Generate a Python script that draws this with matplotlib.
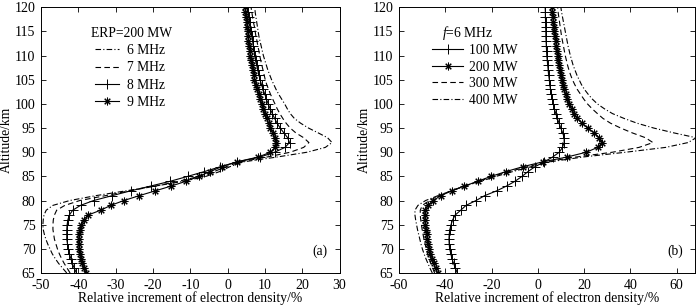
import matplotlib
matplotlib.use("Agg")
import matplotlib.pyplot as plt
import numpy as np

plt.rcParams['font.family'] = ['Liberation Serif', 'DejaVu Serif']
plt.rcParams['mathtext.fontset'] = 'custom'
plt.rcParams['mathtext.it'] = 'Liberation Serif:italic'
plt.rcParams['mathtext.rm'] = 'Liberation Serif'
plt.rcParams['axes.unicode_minus'] = False

altitude = list(range(65, 121))

# Panel (a): ERP = 200 MW, different frequencies
f6 = [-43.1, -44.2, -45.3, -46.2, -47.0, -47.6, -48.2, -48.7, -49.1, -49.4, -49.5, -49.4, -49.2, -48.6, -46.8,
      -42.3, -35.4, -27.3, -19.3, -11.7, -5.8, -2.1, 0.6, 4.2, 13.2, 21.3, 26.2, 28.0, 26.8, 24.3,
      21.7, 19.6, 17.9, 16.8, 16.0, 15.3, 14.5, 13.7, 13.0, 12.4, 11.8, 11.3, 10.8, 10.4, 10.0,
      9.6, 9.3, 9.0, 8.7, 8.4, 8.2, 8.0, 7.8, 7.6, 7.4, 7.3]
f7 = [-42.2, -43.0, -43.8, -44.5, -45.1, -45.6, -46.0, -46.4, -46.6, -46.8, -46.8, -46.7, -46.4, -45.8, -43.6,
      -39.6, -32.8, -26.4, -19.3, -13.0, -7.6, -3.6, -0.4, 3.3, 10.5, 16.8, 20.4, 21.8, 20.4, 18.3,
      16.8, 15.7, 14.8, 14.0, 13.3, 12.7, 12.1, 11.5, 11.0, 10.5, 10.1, 9.8, 9.5, 9.2, 8.9,
      8.6, 8.4, 8.1, 7.9, 7.6, 7.4, 7.2, 6.9, 6.7, 6.5, 6.3]
f8 = [-40.5, -41.1, -41.6, -42.0, -42.4, -42.7, -42.9, -43.1, -43.1, -43.1, -43.0, -42.8, -42.4, -41.5, -39.4,
      -35.9, -31.0, -26.0, -20.6, -15.3, -10.7, -6.2, -1.9, 2.6, 8.7, 12.6, 15.4, 16.6, 16.1, 15.1,
      14.1, 13.3, 12.6, 12.0, 11.4, 10.9, 10.4, 10.0, 9.5, 9.1, 8.7, 8.4, 8.1, 7.8, 7.5,
      7.3, 7.1, 6.9, 6.7, 6.5, 6.3, 6.1, 5.9, 5.7, 5.5, 5.3]
f9 = [-37.9, -38.4, -38.9, -39.3, -39.6, -39.8, -39.9, -39.9, -39.8, -39.6, -39.2, -38.6, -37.4, -34.0, -31.3,
      -27.8, -23.7, -19.4, -15.1, -11.1, -7.7, -4.7, -1.6, 2.4, 8.2, 11.5, 12.8, 13.0, 12.7, 12.1,
      11.5, 11.0, 10.5, 10.0, 9.6, 9.2, 8.8, 8.4, 8.0, 7.6, 7.2, 7.0, 6.7, 6.5, 6.3,
      6.1, 5.9, 5.8, 5.6, 5.5, 5.4, 5.2, 5.1, 5.0, 4.8, 4.7]

# Panel (b): f = 6 MHz, different ERP
p100 = [-34.8, -35.6, -36.4, -37.1, -37.6, -38.1, -38.3, -38.4, -38.3, -38.0, -37.5, -36.8, -35.7, -33.3, -31.0,
        -26.7, -23.0, -17.8, -13.5, -9.8, -6.8, -4.2, -1.2, 2.8, 6.4, 9.3, 10.7, 11.4, 11.4, 10.8,
        10.0, 9.2, 8.5, 7.8, 7.2, 6.7, 6.3, 5.9, 5.5, 5.2, 5.0, 4.7, 4.5, 4.3, 4.1,
        3.9, 3.8, 3.7, 3.6, 3.5, 3.5, 3.4, 3.4, 3.3, 3.3, 3.2]
p200 = [-43.3, -44.2, -45.0, -45.7, -46.4, -46.9, -47.4, -47.8, -48.1, -48.4, -48.6, -48.8, -48.9, -48.7, -47.6,
        -45.2, -42.0, -37.2, -31.7, -25.9, -20.2, -13.7, -6.5, 2.1, 12.6, 21.0, 25.9, 27.8, 26.6, 24.4,
        21.6, 19.2, 17.1, 15.7, 14.6, 13.6, 12.8, 12.1, 11.4, 10.8, 10.3, 9.9, 9.5, 9.2, 8.9,
        8.6, 8.3, 8.0, 7.7, 7.4, 7.2, 7.0, 6.7, 6.5, 6.3, 6.1]
p300 = [-44.6, -45.4, -46.2, -47.0, -47.7, -48.2, -48.7, -49.2, -49.6, -50.0, -50.3, -50.6, -50.8, -50.8, -49.9,
        -46.8, -42.8, -37.4, -31.7, -25.2, -19.5, -12.3, -4.4, 3.5, 16.5, 32.3, 43.8, 49.8, 46.6, 40.9,
        35.9, 31.5, 28.2, 25.8, 23.5, 21.5, 19.9, 18.5, 17.1, 16.0, 15.0, 14.2, 13.5, 12.9, 12.4,
        11.9, 11.5, 11.1, 10.7, 10.3, 10.0, 9.7, 9.4, 9.1, 8.8, 8.6]
p400 = [-45.6, -46.6, -47.5, -48.4, -49.2, -49.9, -50.5, -51.0, -51.5, -52.0, -52.4, -52.8, -53.1, -53.1, -51.8,
        -48.5, -43.2, -37.4, -31.7, -24.5, -18.0, -10.8, -2.9, 5.0, 19.4, 38.0, 55.3, 65.0, 68.5, 58.9,
        50.2, 43.0, 37.3, 32.3, 28.8, 25.8, 23.6, 21.8, 20.2, 18.9, 17.9, 16.9, 16.1, 15.3, 14.7,
        14.1, 13.6, 13.1, 12.7, 12.3, 11.9, 11.5, 11.1, 10.7, 10.3, 10.0]

freq_labels = ['6 MHz', '7 MHz', '8 MHz', '9 MHz']
power_labels = ['100 MW', '200 MW', '300 MW', '400 MW']
title_a = 'ERP=200 MW'
title_b = '$f$=6 MHz'
yticks = list(range(65, 121, 5))
xticks_a = list(range(-50, 31, 10))
xticks_b = list(range(-60, 61, 20))

W, H = 700, 306
fig = plt.figure(figsize=(W / 100, H / 100), dpi=100)
ax1 = fig.add_axes([41 / W, 1 - 273 / H, (339.5 - 41) / W, (273 - 7.3) / H])
ax2 = fig.add_axes([399 / W, 1 - 273 / H, (695 - 399) / W, (273 - 7.3) / H])

FS = 9.8
lw = 0.8
ast = (8, 2, 0)
star_kw = dict(marker=ast, ms=5.5, mew=0.75)
plus_kw = dict(marker='+', ms=6.5, mew=0.7)
dashdot = (0, (5, 2, 1, 2))
dashed = (0, (5, 3))

# panel a
ax1.plot(f6, altitude, color='k', lw=lw, ls=dashdot, label=freq_labels[0])
ax1.plot(f7, altitude, color='k', lw=lw, ls=dashed, label=freq_labels[1])
ax1.plot(f8, altitude, color='k', lw=lw, ls='-', **plus_kw, label=freq_labels[2])
ax1.plot(f9, altitude, color='k', lw=lw, ls='-', **star_kw, label=freq_labels[3])
ax1.set_xlim(-50, 30)
ax1.set_xticks(xticks_a)

# panel b
ax2.plot(p100, altitude, color='k', lw=lw, ls='-', **plus_kw, label=power_labels[0])
ax2.plot(p200, altitude, color='k', lw=lw, ls='-', **star_kw, label=power_labels[1])
ax2.plot(p300, altitude, color='k', lw=lw, ls=dashed, label=power_labels[2])
ax2.plot(p400, altitude, color='k', lw=lw, ls=dashdot, label=power_labels[3])
ax2.set_xlim(-60, 68)
ax2.set_xticks(xticks_b)

for ax, tag in ((ax1, '(a)'), (ax2, '(b)')):
    ax.set_ylim(65, 120)
    ax.set_yticks(yticks)
    ax.tick_params(direction='in', top=True, right=True, length=3.5, width=0.6,
                   labelsize=10)
    ax.tick_params(axis='x', pad=4)
    ax.tick_params(axis='y', pad=4)
    for s in ax.spines.values():
        s.set_linewidth(0.7)
    ax.set_ylabel('Altitude/km', fontsize=FS, labelpad=1)
    ax.set_xlabel('Relative increment of electron density/%', fontsize=FS, labelpad=0)
    ax.text(0.96, 0.08, tag, transform=ax.transAxes, fontsize=FS, ha='right', va='center')

ax1.text(0.1675, 0.903, title_a, transform=ax1.transAxes, fontsize=FS, ha='left', va='center')
ax1.legend(loc='upper left', bbox_to_anchor=(0.181, 0.862),
           frameon=False, fontsize=FS, handlelength=1.75,
           handletextpad=0.6, labelspacing=0.32, borderpad=0, borderaxespad=0)

ax2.text(0.145, 0.903, title_b, transform=ax2.transAxes, fontsize=FS, ha='left', va='center')
ax2.legend(loc='upper left', bbox_to_anchor=(0.1115, 0.862),
           frameon=False, fontsize=FS, handlelength=2.3,
           handletextpad=0.4, labelspacing=0.26, borderpad=0, borderaxespad=0)

fig.savefig('out.png', dpi=100)
